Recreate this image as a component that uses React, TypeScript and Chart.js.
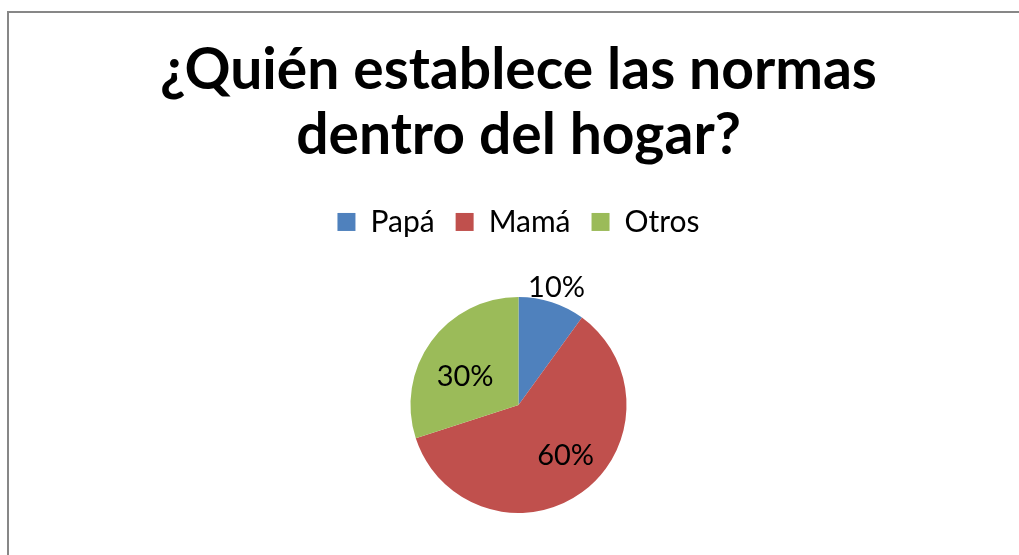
import React, { useEffect, useRef } from "react";
import { Chart, registerables } from "chart.js";

Chart.register(...registerables);

const categories = ["Papá", "Mamá", "Otros"];
const values = [10, 60, 30];
const colors = ["#4F81BD", "#C0504D", "#9BBB59"];
const labelTexts = ["10%", "60%", "30%"];
const titleLines = ["¿Quién establece las normas", "dentro del hogar?"];
const labelRadius = [1.14, 0.64, 0.56];
const labelAngleShift = [0, -7, -8];

const FONT = "Lato, 'Open Sans', sans-serif";

const pieLabels = {
  id: "pieLabels",
  afterDatasetsDraw(chart: any) {
    const ctx = chart.ctx;
    const meta = chart.getDatasetMeta(0);
    ctx.save();
    ctx.font = `29px ${FONT}`;
    ctx.fillStyle = "#000";
    ctx.textAlign = "center";
    ctx.textBaseline = "middle";
    meta.data.forEach((arc: any, i: number) => {
      const { x, y, startAngle, endAngle, outerRadius } = arc.getProps(
        ["x", "y", "startAngle", "endAngle", "outerRadius"],
        true
      );
      const mid = (startAngle + endAngle) / 2 + (labelAngleShift[i] * Math.PI) / 180;
      const r = outerRadius * labelRadius[i];
      ctx.fillText(labelTexts[i], x + Math.cos(mid) * r, y + Math.sin(mid) * r);
    });
    ctx.restore();
  },
};

export default function App() {
  const ref = useRef<HTMLCanvasElement>(null);
  useEffect(() => {
    if (!ref.current) return;
    const chart = new Chart(ref.current, {
      type: "pie",
      data: {
        labels: categories,
        datasets: [
          {
            data: values,
            backgroundColor: colors,
            borderWidth: 0,
            radius: 108,
          },
        ],
      },
      options: {
        animation: false,
        responsive: false,
        layout: { padding: { top: 20, bottom: 77, left: 18 } },
        plugins: {
          title: {
            display: true,
            text: titleLines,
            color: "#000",
            font: { family: FONT, size: 57, weight: "bold", lineHeight: 1.14 },
            padding: { top: 18, bottom: 18 },
          },
          legend: {
            position: "top",
            labels: {
              color: "#000",
              font: { family: FONT, size: 30 },
              boxWidth: 18,
              boxHeight: 18,
              padding: 21,
            },
          },
          tooltip: { enabled: false },
        },
      },
      plugins: [pieLabels],
    });
    return () => chart.destroy();
  }, []);
  return (
    <div style={{ position: "fixed", left: 0, top: 0, width: 1019, height: 555, overflow: "hidden", background: "#fff" }}>
      <div style={{ position: "absolute", left: 7, top: 11, width: 1100, height: 700, border: "2px solid #878787" }} />
      <canvas ref={ref} width={1019} height={640} style={{ position: "absolute", left: 0, top: 0 }} />
    </div>
  );
}
